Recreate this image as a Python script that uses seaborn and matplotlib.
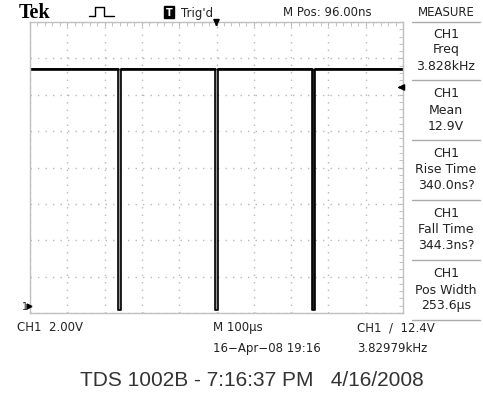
import numpy as np
import pandas as pd
import seaborn as sns
import matplotlib.pyplot as plt
from matplotlib.ticker import MultipleLocator
from matplotlib.lines import Line2D

# scope readout: 100 us/div, 2 V/div, 10 x 8 divisions
pulse_starts_us = [-264.0, -4.0, 257.0]
pulse_width_us = 7.6
high_v = 13.4
low_v = 0.15
trig_level_v = 12.4
trig_time_us = 0.0

measure_names = ["Freq", "Mean", "Rise Time", "Fall Time", "Pos Width"]
measure_values = ["3.828kHz", "12.9V", "340.0ns?", "344.3ns?", "253.6µs"]

# build the trace from the pulse edges
t = [-500.0]
v = [high_v]
for s in pulse_starts_us:
    t += [s, s, s + pulse_width_us, s + pulse_width_us]
    v += [high_v, low_v, low_v, high_v]
t.append(500.0)
v.append(high_v)
df = pd.DataFrame({"time_us": t, "volts": v})

sns.set_style("white")
narrow = ["Liberation Sans Narrow", "DejaVu Sans"]
plt.rcParams["font.family"] = narrow

W, H = 483, 402
fig = plt.figure(figsize=(W / 100, H / 100), dpi=100)
ax = fig.add_axes([30 / W, 1 - 314 / H, 373 / W, 291 / H])

sns.lineplot(data=df, x="time_us", y="volts", sort=False, estimator=None,
             color="black", lw=1.2, ax=ax)
# slightly heavier baseline
ax.plot(df["time_us"], np.where(df["volts"] > 1, df["volts"], np.nan),
        color="black", lw=1.9)
for i, s in enumerate(pulse_starts_us):
    # last pulse shows up as solid black on the scope
    fc = "#222222" if i == len(pulse_starts_us) - 1 else "#999999"
    ax.fill_betweenx([low_v, high_v], s, s + pulse_width_us, color=fc, lw=0)

ax.set_xlim(-500, 500)
ax.set_ylim(0, 16)
ax.xaxis.set_major_locator(MultipleLocator(100))
ax.yaxis.set_major_locator(MultipleLocator(2))
ax.xaxis.set_minor_locator(MultipleLocator(20))
ax.yaxis.set_minor_locator(MultipleLocator(0.4))
ax.grid(True, which="major", color="#b8b8b8", lw=1, linestyle=(0, (1, 4.4)))
ax.tick_params(which="both", direction="in", length=3, color="#b8b8b8",
               top=True, right=True, labelbottom=False, labelleft=False)
ax.set_xlabel("")
ax.set_ylabel("")
for sp in ax.spines.values():
    sp.set_color("#c0c0c0")
    sp.set_linewidth(1)

# trigger markers
ax.annotate("", xy=(trig_time_us, 0.975), xytext=(trig_time_us, 1.0),
            xycoords=("data", "axes fraction"),
            arrowprops=dict(arrowstyle="-|>", color="black", lw=1.2, mutation_scale=9))
ax.annotate("", xy=(0.978, trig_level_v), xytext=(1.0, trig_level_v),
            xycoords=("axes fraction", "data"),
            arrowprops=dict(arrowstyle="-|>", color="black", lw=1.2, mutation_scale=9))


def ftxt(x, y, s, **kw):
    kw.setdefault("va", "center")
    kw.setdefault("color", "#222222")
    kw.setdefault("fontsize", 8.5)
    fig.text(x / W, 1 - y / H, s, **kw)


# header
ftxt(19, 13, "Tek", fontsize=14.5, fontweight="bold", family=["Liberation Serif", "DejaVu Serif"],
     color="black")
px = [89, 95, 95, 104, 104, 114]
py = [17, 17, 8, 8, 17, 17]
fig.add_artist(Line2D([x / W for x in px], [1 - y / H for y in py], color="black", lw=1))
ftxt(169, 13, "T", ha="center", color="white", fontsize=7, fontweight="bold",
     bbox=dict(boxstyle="square,pad=0.15", fc="black", ec="black"))
ftxt(181, 13, "Trig'd")
ftxt(327, 13, "M Pos: 96.00ns", ha="center")
ftxt(446, 13, "MEASURE", ha="center")

# measurement column
sep_y = [23, 81, 141, 201, 261, 321]
for y in sep_y:
    fig.add_artist(Line2D([412 / W, 480 / W], [1 - y / H] * 2, color="#aaaaaa", lw=1))
for i, (name, val) in enumerate(zip(measure_names, measure_values)):
    y0 = 34 + 60 * i
    ftxt(446, y0, "CH1", ha="center", fontsize=9)
    ftxt(446, y0 + 16, name, ha="center", fontsize=9)
    ftxt(446, y0 + 32, val, ha="center", fontsize=9)

# ground marker
ftxt(22, 307, "1", fontsize=7)
fig.add_artist(Line2D([29 / W], [1 - 307 / H], marker=">", color="black", ms=3.5, lw=0))

# bottom status
ftxt(17, 328, "CH1  2.00V")
ftxt(213, 328, "M 100µs")
ftxt(357, 328, "CH1  /  12.4V")
ftxt(213, 349, "16\u2212Apr\u221208 19:16")
ftxt(357, 349, "3.82979kHz")

ftxt(252, 381, "TDS 1002B - 7:16:37 PM   4/16/2008", ha="center", fontsize=15,
     family=["Liberation Sans", "DejaVu Sans"], color="#333333")

fig.savefig("out.png", dpi=100, facecolor="white")
